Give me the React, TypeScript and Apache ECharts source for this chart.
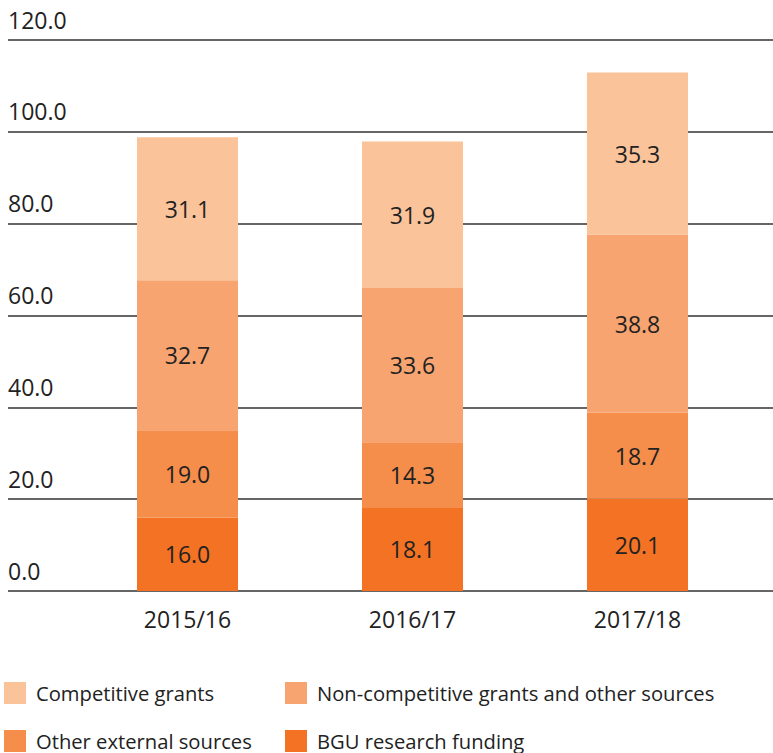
import React, { useEffect, useRef } from "react";
import * as echarts from "echarts";

const categories = ["2015/16", "2016/17", "2017/18"];
const bguFunding = [16.0, 18.1, 20.1];
const otherExternal = [19.0, 14.3, 18.7];
const nonCompetitive = [32.7, 33.6, 38.8];
const competitive = [31.1, 31.9, 35.3];
const yTicks = { min: 0, max: 120, interval: 20 };

const FONT = "'Open Sans', 'Noto Sans', sans-serif";
const COLORS = {
  competitive: "#FBC39A",
  nonCompetitive: "#F7A470",
  otherExternal: "#F58D4B",
  bgu: "#F37223",
};

export default function App() {
  const ref = useRef<HTMLDivElement>(null);
  useEffect(() => {
    document.body.style.margin = "0";
    const chart = echarts.init(ref.current!, null, { renderer: "svg" });
    const labelCfg = {
      show: true,
      position: "inside",
      color: "#222",
      fontFamily: FONT,
      fontSize: 23,
      formatter: (p: any) => Number(p.value).toFixed(1),
    };
    const mk = (name: string, data: number[], color: string) => ({
      name,
      type: "bar",
      stack: "total",
      xAxisIndex: 1,
      yAxisIndex: 1,
      barWidth: 101,
      data,
      itemStyle: { color },
      label: labelCfg,
    });
    const leg = (name: string, left: number, top: number) => ({
      left,
      top,
      padding: 0,
      orient: "horizontal",
      icon: "rect",
      itemWidth: 22,
      itemHeight: 22,
      data: [name],
      textStyle: { fontSize: 20.2, color: "#222", fontFamily: FONT, padding: [0, 0, 0, 5] },
    });
    chart.setOption({
      animation: false,
      textStyle: { fontFamily: FONT },
      grid: [
        { left: 8, right: 0, top: 40, bottom: 162, containLabel: false },
        { left: 75, right: 23, top: 40, bottom: 162, containLabel: false },
      ],
      xAxis: [
        { type: "value", gridIndex: 0, min: 0, max: 1, show: false },
        {
          type: "category",
          gridIndex: 1,
          data: categories,
          axisLine: { show: false },
          axisTick: { show: false },
          axisLabel: { color: "#222", fontSize: 23, fontFamily: FONT, margin: 16 },
        },
      ],
      yAxis: [
        {
          type: "value",
          gridIndex: 0,
          min: yTicks.min,
          max: yTicks.max,
          interval: yTicks.interval,
          axisLine: { show: false },
          axisTick: { show: false },
          splitLine: { show: true, lineStyle: { color: "#333", width: 1.5 } },
          axisLabel: {
            inside: true,
            margin: 0,
            color: "#222",
            fontSize: 23,
            fontFamily: FONT,
            verticalAlign: "bottom",
            padding: [0, 0, 9, 0],
            formatter: (v: number) => v.toFixed(1),
          },
        },
        {
          type: "value",
          gridIndex: 1,
          min: yTicks.min,
          max: yTicks.max,
          interval: yTicks.interval,
          show: false,
          splitLine: { show: false },
        },
      ],
      legend: [
        leg("Competitive grants", 4, 682),
        leg("Non-competitive grants and other sources", 285, 682),
        leg("Other external sources", 4, 730),
        leg("BGU research funding", 285, 730),
      ],
      series: [
        mk("BGU research funding", bguFunding, COLORS.bgu),
        mk("Other external sources", otherExternal, COLORS.otherExternal),
        mk("Non-competitive grants and other sources", nonCompetitive, COLORS.nonCompetitive),
        mk("Competitive grants", competitive, COLORS.competitive),
      ],
    });
    return () => chart.dispose();
  }, []);
  return <div ref={ref} style={{ width: 773, height: 753 }} />;
}
